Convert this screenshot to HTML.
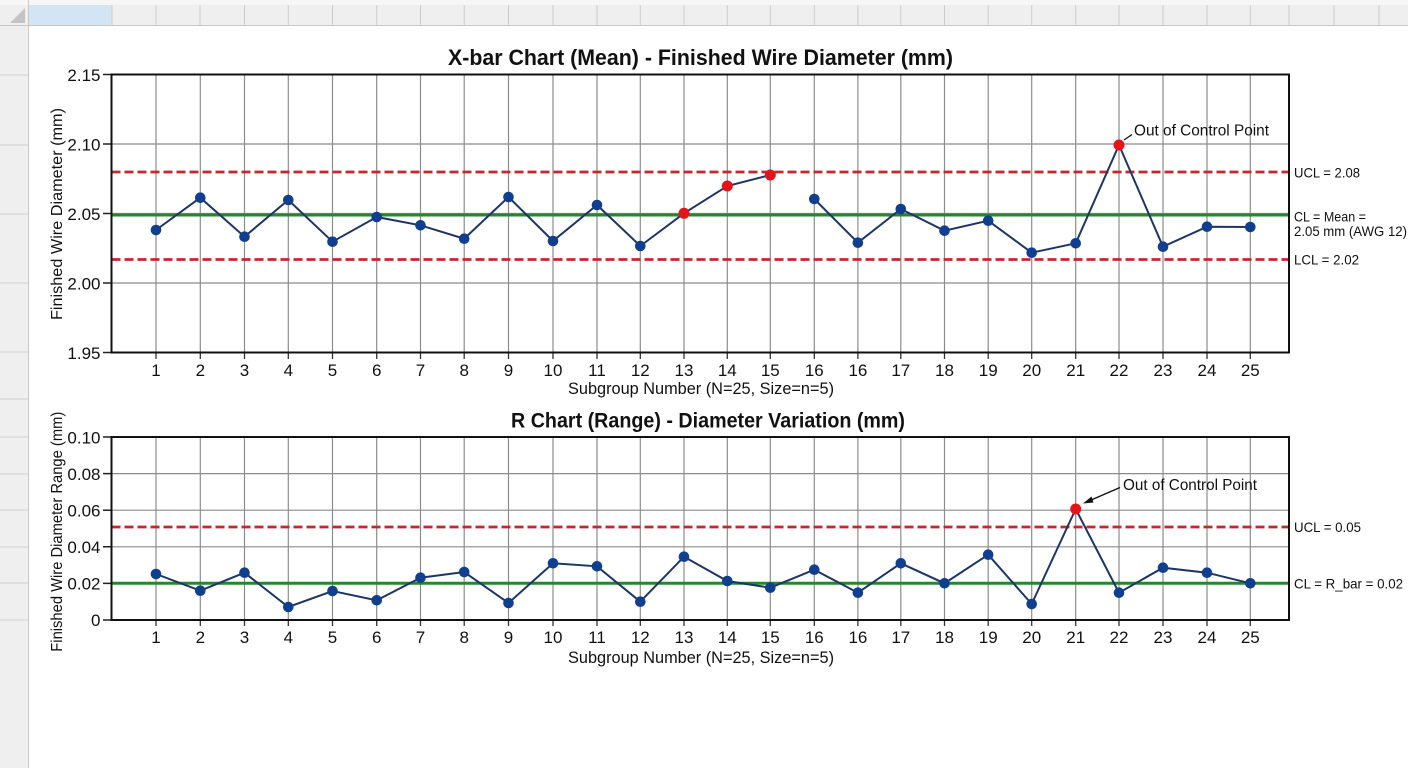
<!DOCTYPE html>
<html><head><meta charset="utf-8"><style>
html,body{margin:0;padding:0;background:#fff;}
svg{display:block;font-family:"Liberation Sans",Arial,sans-serif;}
</style></head><body>
<svg width="1408" height="768" viewBox="0 0 1408 768" xmlns="http://www.w3.org/2000/svg">
<rect x="0" y="0" width="1408" height="768" fill="#ffffff"/>
<!-- spreadsheet chrome -->
<rect x="0" y="0" width="1408" height="26" fill="#efefef"/>
<rect x="0" y="0" width="1408" height="5" fill="#f6f6f6"/>
<rect x="29" y="5" width="83" height="20" fill="#d3e4f4"/>
<path d="M112 5V25 M156 5V25 M200 5V25 M244.5 5V25 M288.3 5V25 M332.5 5V25 M376.7 5V25 M420.5 5V25 M464.2 5V25 M508.5 5V25 M553 5V25 M597 5V25 M640.3 5V25 M684 5V25 M727.3 5V25 M770.3 5V25 M814.3 5V25 M857.9 5V25 M900.8 5V25 M944.5 5V25 M988.2 5V25 M1031.7 5V25 M1075.7 5V25 M1119 5V25 M1163 5V25 M1207 5V25 M1250.3 5V25 M1289 5V25 M1334 5V25 M1379 5V25" stroke="#cdcdcd" stroke-width="1"/>
<line x1="0" y1="25.5" x2="1408" y2="25.5" stroke="#c8c8c8" stroke-width="1"/>
<rect x="0" y="26" width="28" height="742" fill="#efefef"/>
<line x1="28.5" y1="0" x2="28.5" y2="768" stroke="#c8c8c8" stroke-width="1"/>
<polygon points="25,8 25,23 10,23" fill="#c4c4c4"/>
<path d="M0 75H28 M0 145H28 M0 214H28 M0 283H28 M0 352H28 M0 399H28 M0 437H28 M0 474H28 M0 510H28 M0 547H28 M0 583H28 M0 620H28" stroke="#d0d0d0" stroke-width="1"/>

<!-- ================= TOP CHART ================= -->
<text x="700.5" y="65" font-size="22" font-weight="bold" text-anchor="middle" textLength="505" lengthAdjust="spacingAndGlyphs" fill="#111">X-bar Chart (Mean) - Finished Wire Diameter (mm)</text>
<!-- horizontal gridlines -->
<path d="M111.5 144H1289 M111.5 213.5H1289 M111.5 283H1289" stroke="#8c8c8c" stroke-width="1.2"/>
<!-- vertical gridlines -->
<path d="M156 74.5V352.5 M200.3 74.5V352.5 M244.5 74.5V352.5 M288.3 74.5V352.5 M332.5 74.5V352.5 M376.7 74.5V352.5 M420.5 74.5V352.5 M464.2 74.5V352.5 M508.5 74.5V352.5 M553 74.5V352.5 M597 74.5V352.5 M640.3 74.5V352.5 M684 74.5V352.5 M727.3 74.5V352.5 M770.3 74.5V352.5 M814.3 74.5V352.5 M857.9 74.5V352.5 M900.8 74.5V352.5 M944.5 74.5V352.5 M988.2 74.5V352.5 M1031.7 74.5V352.5 M1075.7 74.5V352.5 M1119 74.5V352.5 M1163 74.5V352.5 M1207 74.5V352.5 M1250.3 74.5V352.5" stroke="#8c8c8c" stroke-width="1.2"/>
<!-- x ticks -->
<path d="M156 352.5V359 M200.3 352.5V359 M244.5 352.5V359 M288.3 352.5V359 M332.5 352.5V359 M376.7 352.5V359 M420.5 352.5V359 M464.2 352.5V359 M508.5 352.5V359 M553 352.5V359 M597 352.5V359 M640.3 352.5V359 M684 352.5V359 M727.3 352.5V359 M770.3 352.5V359 M814.3 352.5V359 M857.9 352.5V359 M900.8 352.5V359 M944.5 352.5V359 M988.2 352.5V359 M1031.7 352.5V359 M1075.7 352.5V359 M1119 352.5V359 M1163 352.5V359 M1207 352.5V359 M1250.3 352.5V359" stroke="#333" stroke-width="1.3"/>
<!-- y ticks -->
<path d="M103 74.5H111.5 M103 144H111.5 M103 213.5H111.5 M103 283H111.5 M103 352.5H111.5" stroke="#222" stroke-width="1.5"/>
<!-- control lines -->
<line x1="111.5" y1="172" x2="1289" y2="172" stroke="#c9262b" stroke-width="2.7" stroke-dasharray="9,4"/>
<line x1="111.5" y1="259.5" x2="1289" y2="259.5" stroke="#c9262b" stroke-width="2.7" stroke-dasharray="9,4"/>
<line x1="111.5" y1="215" x2="1289" y2="215" stroke="#23882a" stroke-width="3"/>
<!-- series -->
<polyline fill="none" stroke="#1d3566" stroke-width="2" points="156,230 200.3,197.7 244.5,236.7 288.3,200 332.5,241.7 376.7,217 420.5,225.3 464.2,238.7 508.5,197 553,241 597,205 640.3,246 684,213.3 727.3,186 770.3,175"/>
<polyline fill="none" stroke="#1d3566" stroke-width="2" points="814.3,199 857.9,242.7 900.8,209 944.5,230.7 988.2,220.7 1031.7,252.7 1075.7,243.3 1119,145 1163,246.7 1207,226.7 1250.3,227"/>
<g fill="#103f8f">
<circle cx="156" cy="230" r="5.3"/><circle cx="200.3" cy="197.7" r="5.3"/><circle cx="244.5" cy="236.7" r="5.3"/><circle cx="288.3" cy="200" r="5.3"/><circle cx="332.5" cy="241.7" r="5.3"/><circle cx="376.7" cy="217" r="5.3"/><circle cx="420.5" cy="225.3" r="5.3"/><circle cx="464.2" cy="238.7" r="5.3"/><circle cx="508.5" cy="197" r="5.3"/><circle cx="553" cy="241" r="5.3"/><circle cx="597" cy="205" r="5.3"/><circle cx="640.3" cy="246" r="5.3"/>
<circle cx="814.3" cy="199" r="5.3"/><circle cx="857.9" cy="242.7" r="5.3"/><circle cx="900.8" cy="209" r="5.3"/><circle cx="944.5" cy="230.7" r="5.3"/><circle cx="988.2" cy="220.7" r="5.3"/><circle cx="1031.7" cy="252.7" r="5.3"/><circle cx="1075.7" cy="243.3" r="5.3"/><circle cx="1163" cy="246.7" r="5.3"/><circle cx="1207" cy="226.7" r="5.3"/><circle cx="1250.3" cy="227" r="5.3"/>
</g>
<g fill="#e5131a">
<circle cx="684" cy="213.3" r="5.5"/><circle cx="727.3" cy="186" r="5.5"/><circle cx="770.3" cy="175" r="5.5"/><circle cx="1119" cy="145" r="5.5"/>
</g>
<!-- border -->
<rect x="111.5" y="74.5" width="1177.5" height="278" fill="none" stroke="#111" stroke-width="2"/>
<!-- annotation -->
<line x1="1124" y1="140" x2="1132" y2="134.5" stroke="#111" stroke-width="1.3"/>
<text x="1134" y="135.5" font-size="16" textLength="135" lengthAdjust="spacingAndGlyphs" fill="#111">Out of Control Point</text>
<!-- right labels -->
<g font-size="14" fill="#111">
<text x="1294" y="177.5" textLength="66" lengthAdjust="spacingAndGlyphs">UCL = 2.08</text>
<text x="1294" y="221.5" textLength="72" lengthAdjust="spacingAndGlyphs">CL = Mean =</text>
<text x="1294" y="236" textLength="113" lengthAdjust="spacingAndGlyphs">2.05 mm (AWG 12)</text>
<text x="1294" y="264.5" textLength="65" lengthAdjust="spacingAndGlyphs">LCL = 2.02</text>
</g>
<!-- y tick labels -->
<g font-size="17" text-anchor="end" fill="#111">
<text x="100.5" y="81">2.15</text>
<text x="100.5" y="150.5">2.10</text>
<text x="100.5" y="220">2.05</text>
<text x="100.5" y="289.5">2.00</text>
<text x="100.5" y="359">1.95</text>
</g>
<!-- x tick labels -->
<g font-size="17" text-anchor="middle" fill="#111">
<text x="156" y="376">1</text><text x="200.3" y="376">2</text><text x="244.5" y="376">3</text><text x="288.3" y="376">4</text><text x="332.5" y="376">5</text><text x="376.7" y="376">6</text><text x="420.5" y="376">7</text><text x="464.2" y="376">8</text><text x="508.5" y="376">9</text><text x="553" y="376">10</text><text x="597" y="376">11</text><text x="640.3" y="376">12</text><text x="684" y="376">13</text><text x="727.3" y="376">14</text><text x="770.3" y="376">15</text><text x="814.3" y="376">16</text><text x="857.9" y="376">16</text><text x="900.8" y="376">17</text><text x="944.5" y="376">18</text><text x="988.2" y="376">19</text><text x="1031.7" y="376">20</text><text x="1075.7" y="376">21</text><text x="1119" y="376">22</text><text x="1163" y="376">23</text><text x="1207" y="376">24</text><text x="1250.3" y="376">25</text>
</g>
<text x="701" y="394" font-size="16.5" text-anchor="middle" textLength="266" lengthAdjust="spacingAndGlyphs" fill="#111">Subgroup Number (N=25, Size=n=5)</text>
<text transform="translate(62,214) rotate(-90)" x="0" y="0" font-size="16" text-anchor="middle" textLength="212" lengthAdjust="spacingAndGlyphs" fill="#111">Finished Wire Diameter (mm)</text>

<!-- ================= BOTTOM CHART ================= -->
<text x="708" y="427.5" font-size="21" font-weight="bold" text-anchor="middle" textLength="394" lengthAdjust="spacingAndGlyphs" fill="#111">R Chart (Range) - Diameter Variation (mm)</text>
<path d="M111.5 473.6H1289 M111.5 510.2H1289 M111.5 546.8H1289 M111.5 583.4H1289" stroke="#8c8c8c" stroke-width="1.2"/>
<path d="M156 437V620 M200.3 437V620 M244.5 437V620 M288.3 437V620 M332.5 437V620 M376.7 437V620 M420.5 437V620 M464.2 437V620 M508.5 437V620 M553 437V620 M597 437V620 M640.3 437V620 M684 437V620 M727.3 437V620 M770.3 437V620 M814.3 437V620 M857.9 437V620 M900.8 437V620 M944.5 437V620 M988.2 437V620 M1031.7 437V620 M1075.7 437V620 M1119 437V620 M1163 437V620 M1207 437V620 M1250.3 437V620" stroke="#8c8c8c" stroke-width="1.2"/>
<path d="M156 620V626 M200.3 620V626 M244.5 620V626 M288.3 620V626 M332.5 620V626 M376.7 620V626 M420.5 620V626 M464.2 620V626 M508.5 620V626 M553 620V626 M597 620V626 M640.3 620V626 M684 620V626 M727.3 620V626 M770.3 620V626 M814.3 620V626 M857.9 620V626 M900.8 620V626 M944.5 620V626 M988.2 620V626 M1031.7 620V626 M1075.7 620V626 M1119 620V626 M1163 620V626 M1207 620V626 M1250.3 620V626" stroke="#333" stroke-width="1.3"/>
<path d="M103 437H111.5 M103 473.6H111.5 M103 510.2H111.5 M103 546.8H111.5 M103 583.4H111.5 M103 620H111.5" stroke="#222" stroke-width="1.5"/>
<line x1="111.5" y1="527" x2="1289" y2="527" stroke="#c9262b" stroke-width="2.7" stroke-dasharray="9,4"/>
<line x1="111.5" y1="583.3" x2="1289" y2="583.3" stroke="#23882a" stroke-width="3"/>
<polyline fill="none" stroke="#1d3566" stroke-width="2" points="156,574 200.3,590.7 244.5,572.7 288.3,607 332.5,591 376.7,600.3 420.5,577.7 464.2,572 508.5,603 553,563.3 597,566.3 640.3,601.7 684,556.7 727.3,581 770.3,587.7 814.3,569.7 857.9,592.7 900.8,563.3 944.5,583.3 988.2,554.7 1031.7,604 1075.7,509 1119,592.7 1163,567.7 1207,572.7 1250.3,583.3"/>
<g fill="#103f8f">
<circle cx="156" cy="574" r="5.3"/><circle cx="200.3" cy="590.7" r="5.3"/><circle cx="244.5" cy="572.7" r="5.3"/><circle cx="288.3" cy="607" r="5.3"/><circle cx="332.5" cy="591" r="5.3"/><circle cx="376.7" cy="600.3" r="5.3"/><circle cx="420.5" cy="577.7" r="5.3"/><circle cx="464.2" cy="572" r="5.3"/><circle cx="508.5" cy="603" r="5.3"/><circle cx="553" cy="563.3" r="5.3"/><circle cx="597" cy="566.3" r="5.3"/><circle cx="640.3" cy="601.7" r="5.3"/><circle cx="684" cy="556.7" r="5.3"/><circle cx="727.3" cy="581" r="5.3"/><circle cx="770.3" cy="587.7" r="5.3"/><circle cx="814.3" cy="569.7" r="5.3"/><circle cx="857.9" cy="592.7" r="5.3"/><circle cx="900.8" cy="563.3" r="5.3"/><circle cx="944.5" cy="583.3" r="5.3"/><circle cx="988.2" cy="554.7" r="5.3"/><circle cx="1031.7" cy="604" r="5.3"/><circle cx="1119" cy="592.7" r="5.3"/><circle cx="1163" cy="567.7" r="5.3"/><circle cx="1207" cy="572.7" r="5.3"/><circle cx="1250.3" cy="583.3" r="5.3"/>
</g>
<circle cx="1075.7" cy="509" r="5.5" fill="#e5131a"/>
<rect x="111.5" y="437" width="1177.5" height="183" fill="none" stroke="#111" stroke-width="2"/>
<!-- arrow annotation -->
<line x1="1120" y1="487.5" x2="1090" y2="500.5" stroke="#111" stroke-width="1.4"/>
<polygon points="1083,503.5 1091.5,496.5 1093.5,502.5" fill="#111"/>
<text x="1123" y="490" font-size="16" textLength="134" lengthAdjust="spacingAndGlyphs" fill="#111">Out of Control Point</text>
<g font-size="14" fill="#111">
<text x="1294" y="532" textLength="67" lengthAdjust="spacingAndGlyphs">UCL = 0.05</text>
<text x="1294" y="588.5" textLength="109" lengthAdjust="spacingAndGlyphs">CL = R_bar = 0.02</text>
</g>
<g font-size="17" text-anchor="end" fill="#111">
<text x="100.5" y="443.5">0.10</text>
<text x="100.5" y="480">0.08</text>
<text x="100.5" y="516.5">0.06</text>
<text x="100.5" y="553">0.04</text>
<text x="100.5" y="589.5">0.02</text>
<text x="100.5" y="626">0</text>
</g>
<g font-size="17" text-anchor="middle" fill="#111">
<text x="156" y="643">1</text><text x="200.3" y="643">2</text><text x="244.5" y="643">3</text><text x="288.3" y="643">4</text><text x="332.5" y="643">5</text><text x="376.7" y="643">6</text><text x="420.5" y="643">7</text><text x="464.2" y="643">8</text><text x="508.5" y="643">9</text><text x="553" y="643">10</text><text x="597" y="643">11</text><text x="640.3" y="643">12</text><text x="684" y="643">13</text><text x="727.3" y="643">14</text><text x="770.3" y="643">15</text><text x="814.3" y="643">16</text><text x="857.9" y="643">16</text><text x="900.8" y="643">17</text><text x="944.5" y="643">18</text><text x="988.2" y="643">19</text><text x="1031.7" y="643">20</text><text x="1075.7" y="643">21</text><text x="1119" y="643">22</text><text x="1163" y="643">23</text><text x="1207" y="643">24</text><text x="1250.3" y="643">25</text>
</g>
<text x="701" y="663" font-size="16.5" text-anchor="middle" textLength="266" lengthAdjust="spacingAndGlyphs" fill="#111">Subgroup Number (N=25, Size=n=5)</text>
<text transform="translate(62,531.7) rotate(-90)" x="0" y="0" font-size="16" text-anchor="middle" textLength="240" lengthAdjust="spacingAndGlyphs" fill="#111">Finished Wire Diameter Range (mm)</text>
</svg>
</body></html>
